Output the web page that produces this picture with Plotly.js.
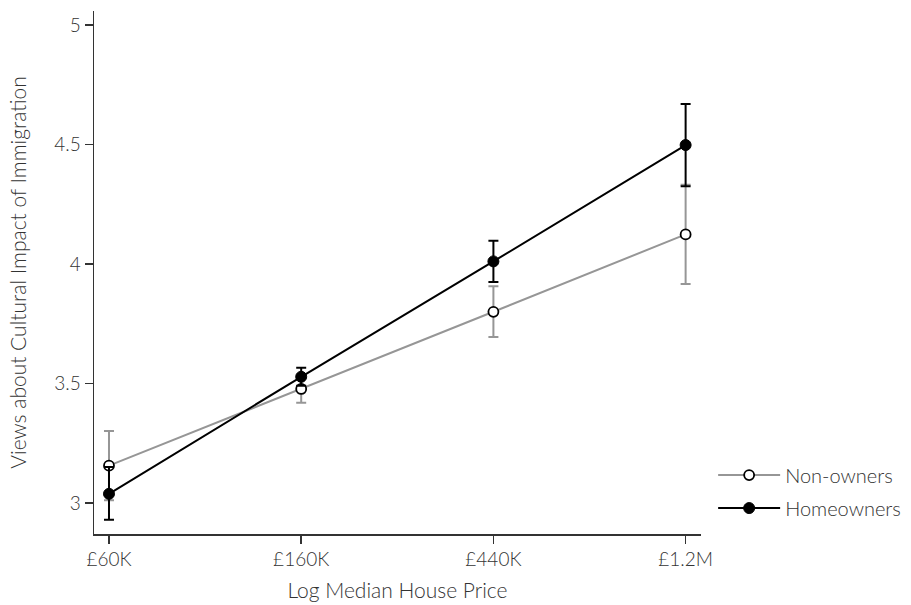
<!DOCTYPE html>
<html>
<head>
<meta charset="utf-8">
<script src="https://cdn.plot.ly/plotly-3.0.1.min.js"></script>
<style>html,body{margin:0;padding:0;background:#fff;}#chart{width:911px;height:605px;}</style>
</head>
<body>
<div id="chart"></div>
<script>
var categories = ["£60K", "£160K", "£440K", "£1.2M"];
var nonOwners = [3.156, 3.477, 3.800, 4.124];
var nonOwnersErrPlus = [0.145, 0.058, 0.107, 0.208];
var nonOwnersErrMinus = [0.145, 0.058, 0.105, 0.208];
var homeowners = [3.038, 3.528, 4.011, 4.498];
var homeownersErrPlus = [0.112, 0.038, 0.086, 0.172];
var homeownersErrMinus = [0.108, 0.038, 0.086, 0.172];
var yTicks = [3, 3.5, 4, 4.5, 5];

var fontFam = "Lato, 'Open Sans', sans-serif";
var traces = [
  {
    x: categories, y: nonOwners, name: "Non-owners", legendgroup: "a", type: "scatter", mode: "lines+markers",
    line: {color: "#969696", width: 2},
    marker: {size: 10, color: "#ffffff", line: {color: "#000000", width: 1.8}},
    error_y: {type: "data", array: nonOwnersErrPlus, arrayminus: nonOwnersErrMinus, visible: true, color: "#969696", thickness: 2, width: 5}
  },
  {
    x: categories, y: homeowners, name: "Homeowners", legendgroup: "b", type: "scatter", mode: "lines+markers",
    line: {color: "#000000", width: 2},
    marker: {size: 11, color: "#000000", line: {color: "#000000", width: 1}},
    error_y: {type: "data", array: homeownersErrPlus, arrayminus: homeownersErrMinus, visible: true, color: "#000000", thickness: 2, width: 5}
  }
];

var layout = {
  width: 911, height: 605,
  margin: {l: 94, r: 210, t: 11, b: 71, autoexpand: false},
  paper_bgcolor: "#ffffff", plot_bgcolor: "#ffffff",
  font: {family: fontFam, size: 18, color: "#333333", weight: 300},
  showlegend: true,
  legend: {x: 1.02, y: 0.15, xanchor: "left", yanchor: "top", bgcolor: "rgba(0,0,0,0)",
    font: {size: 20, color: "#333333", family: fontFam, weight: 300}, tracegroupgap: 4, itemwidth: 62},
  xaxis: {
    type: "category", range: [-0.078, 3.08],
    showline: true, linecolor: "#333333", linewidth: 1.5, mirror: false,
    showgrid: false, zeroline: false,
    ticks: "outside", ticklen: 8, tickcolor: "#333333", tickwidth: 1.5,
    tickfont: {size: 19, color: "#333333", family: fontFam, weight: 300},
    title: {text: "Log Median House Price", font: {size: 21, color: "#333333", family: fontFam, weight: 300}, standoff: 14}
  },
  yaxis: {
    range: [2.87, 5.059], tickvals: yTicks, ticktext: yTicks.map(String),
    showline: true, linecolor: "#333333", linewidth: 1.5,
    showgrid: false, zeroline: false,
    ticks: "outside", ticklen: 8, tickcolor: "#333333", tickwidth: 1.5,
    tickfont: {size: 19, color: "#333333", family: fontFam, weight: 300},
    title: {text: "Views about Cultural Impact of Immigration", font: {size: 21, color: "#333333", family: fontFam, weight: 300}, standoff: 22}
  }
};

Plotly.newPlot("chart", traces, layout, {displayModeBar: false, staticPlot: true});
</script>
</body>
</html>
